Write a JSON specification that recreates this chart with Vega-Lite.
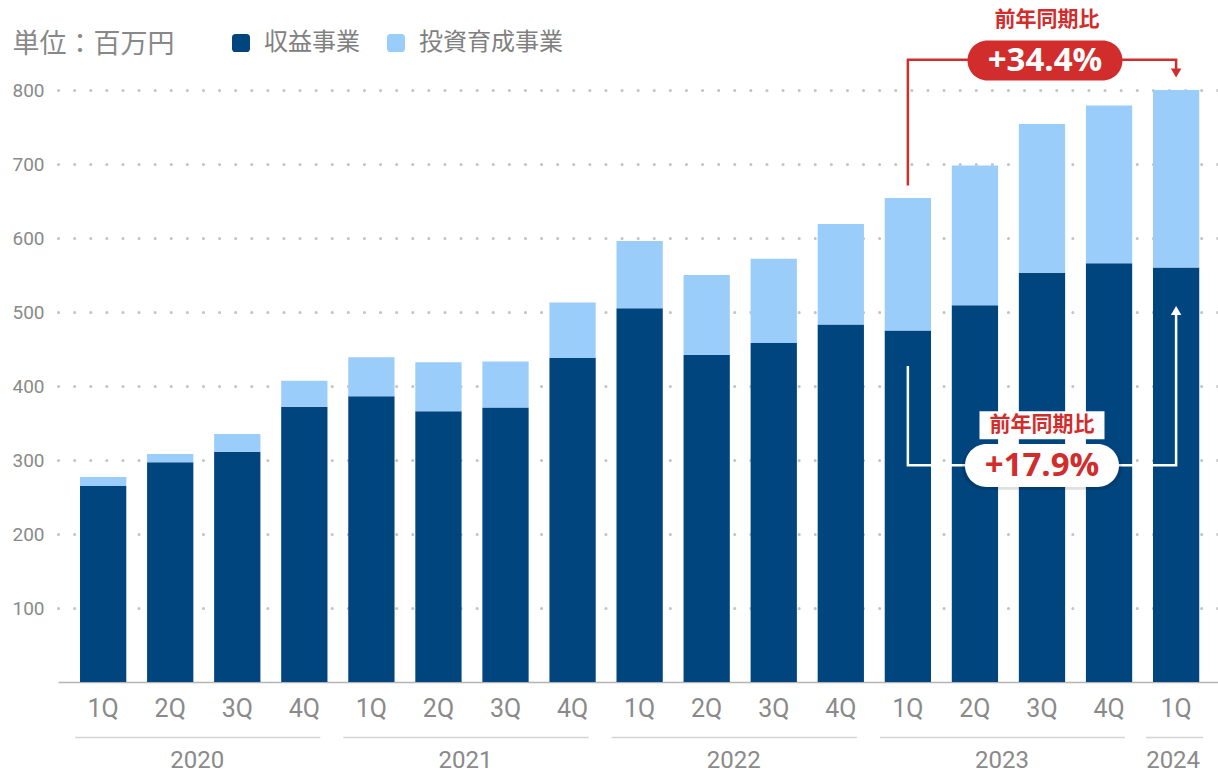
{
  "$schema": "https://vega.github.io/schema/vega-lite/v6.json",
  "width": 1160,
  "height": 592,
  "autosize": {"type": "none"},
  "padding": {"left": 58, "top": 90, "right": 0, "bottom": 92},
  "background": "white",
  "config": {"view": {"stroke": null}},
  "datasets": {
    "bars": [
      {"q": "2020 1Q", "series": "収益事業", "value": 265}, {"q": "2020 1Q", "series": "投資育成事業", "value": 12},
      {"q": "2020 2Q", "series": "収益事業", "value": 297}, {"q": "2020 2Q", "series": "投資育成事業", "value": 11},
      {"q": "2020 3Q", "series": "収益事業", "value": 311}, {"q": "2020 3Q", "series": "投資育成事業", "value": 24},
      {"q": "2020 4Q", "series": "収益事業", "value": 372}, {"q": "2020 4Q", "series": "投資育成事業", "value": 35},
      {"q": "2021 1Q", "series": "収益事業", "value": 386}, {"q": "2021 1Q", "series": "投資育成事業", "value": 53},
      {"q": "2021 2Q", "series": "収益事業", "value": 366}, {"q": "2021 2Q", "series": "投資育成事業", "value": 66},
      {"q": "2021 3Q", "series": "収益事業", "value": 371}, {"q": "2021 3Q", "series": "投資育成事業", "value": 62},
      {"q": "2021 4Q", "series": "収益事業", "value": 438}, {"q": "2021 4Q", "series": "投資育成事業", "value": 75},
      {"q": "2022 1Q", "series": "収益事業", "value": 505}, {"q": "2022 1Q", "series": "投資育成事業", "value": 91},
      {"q": "2022 2Q", "series": "収益事業", "value": 442}, {"q": "2022 2Q", "series": "投資育成事業", "value": 108},
      {"q": "2022 3Q", "series": "収益事業", "value": 458}, {"q": "2022 3Q", "series": "投資育成事業", "value": 114},
      {"q": "2022 4Q", "series": "収益事業", "value": 483}, {"q": "2022 4Q", "series": "投資育成事業", "value": 136},
      {"q": "2023 1Q", "series": "収益事業", "value": 475}, {"q": "2023 1Q", "series": "投資育成事業", "value": 179},
      {"q": "2023 2Q", "series": "収益事業", "value": 509}, {"q": "2023 2Q", "series": "投資育成事業", "value": 189},
      {"q": "2023 3Q", "series": "収益事業", "value": 553}, {"q": "2023 3Q", "series": "投資育成事業", "value": 201},
      {"q": "2023 4Q", "series": "収益事業", "value": 566}, {"q": "2023 4Q", "series": "投資育成事業", "value": 213},
      {"q": "2024 1Q", "series": "収益事業", "value": 560}, {"q": "2024 1Q", "series": "投資育成事業", "value": 240}
    ],
    "redPath": [
      {"q": "2023 1Q", "v": 671, "i": 0}, {"q": "2023 1Q", "v": 841, "i": 1},
      {"q": "2024 1Q", "v": 841, "i": 2}, {"q": "2024 1Q", "v": 826, "i": 3}
    ],
    "redArrow": [{"q": "2024 1Q", "v": 823}],
    "whitePath": [
      {"q": "2023 1Q", "v": 427, "i": 0}, {"q": "2023 1Q", "v": 293, "i": 1},
      {"q": "2024 1Q", "v": 293, "i": 2}, {"q": "2024 1Q", "v": 496, "i": 3}
    ],
    "whiteArrow": [{"q": "2024 1Q", "v": 502}],
    "topPill": [{"q": "2023 3Q", "v": 840, "text": "+34.4%"}],
    "topLabel": [{"q": "2023 3Q", "v": 895, "text": "前年同期比"}],
    "botLabel": [{"q": "2023 3Q", "v": 347, "text": "前年同期比"}],
    "botPill": [{"q": "2023 3Q", "v": 292.6, "text": "+17.9%"}],
    "years": [
      {"year": "2020", "first": "2020 1Q", "mid": "2020 2Q", "last": "2020 4Q"},
      {"year": "2021", "first": "2021 1Q", "mid": "2021 2Q", "last": "2021 4Q"},
      {"year": "2022", "first": "2022 1Q", "mid": "2022 2Q", "last": "2022 4Q"},
      {"year": "2023", "first": "2023 1Q", "mid": "2023 2Q", "last": "2023 4Q"},
      {"year": "2024", "first": "2024 1Q", "mid": "2024 1Q", "last": "2024 1Q"}
    ]
  },
  "layer": [
    {
      "data": {"name": "bars"},
      "mark": {"type": "bar"},
      "encoding": {
        "x": {
          "field": "q", "type": "nominal", "title": null,
          "scale": {
            "domain": ["2020 1Q","2020 2Q","2020 3Q","2020 4Q","2021 1Q","2021 2Q","2021 3Q","2021 4Q","2022 1Q","2022 2Q","2022 3Q","2022 4Q","2023 1Q","2023 2Q","2023 3Q","2023 4Q","2024 1Q"],
            "paddingInner": 0.31, "paddingOuter": 0.304, "align": 0.54
          },
          "axis": {
            "title": null, "ticks": false, "domain": true, "domainColor": "#b4b4b4", "domainWidth": 1.5,
            "labelExpr": "split(datum.value, ' ')[1]", "labelAngle": 0,
            "labelFont": "Roboto", "labelFontSize": 25, "labelColor": "#8a8a8a", "labelPadding": 14, "grid": false
          }
        },
        "y": {
          "field": "value", "type": "quantitative", "stack": "zero",
          "scale": {"domain": [0, 800], "nice": false, "zero": true},
          "axis": {
            "values": [100, 200, 300, 400, 500, 600, 700, 800],
            "domain": false, "ticks": false, "grid": true,
            "gridColor": "#c4c4c4", "gridWidth": 3, "gridDash": [0.1, 16], "gridCap": "round",
            "labelFont": "Roboto", "labelFontSize": 19, "labelColor": "#8a8a8a", "labelPadding": 14,
            "title": "単位：百万円", "titleAngle": 0, "titleX": -46, "titleY": -46,
            "titleAlign": "left", "titleBaseline": "middle", "titleFont": "Noto Sans CJK JP",
            "titleFontSize": 27, "titleFontWeight": "normal", "titleColor": "#888888"
          }
        },
        "color": {
          "field": "series", "type": "nominal",
          "scale": {"domain": ["収益事業", "投資育成事業"], "range": ["#00457e", "#9bcdfb"]},
          "legend": {
            "title": null, "orient": "none", "direction": "horizontal",
            "legendX": 171, "legendY": -59,
            "symbolType": "M -1 -0.6 Q -1 -1 -0.6 -1 L 0.6 -1 Q 1 -1 1 -0.6 L 1 0.6 Q 1 1 0.6 1 L -0.6 1 Q -1 1 -1 0.6 Z",
            "symbolSize": 324, "symbolStrokeWidth": 0, "symbolOpacity": 1,
            "labelFont": "Noto Sans CJK JP", "labelFontSize": 24, "labelColor": "#808080",
            "labelOffset": 11, "columnPadding": 24
          }
        },
        "order": {"field": "series", "sort": "ascending"}
      }
    },
    {
      "data": {"name": "redPath"},
      "mark": {"type": "line", "color": "#d12d2d", "strokeWidth": 2.5, "strokeJoin": "miter"},
      "encoding": {
        "x": {"field": "q", "type": "nominal"},
        "y": {"field": "v", "type": "quantitative"},
        "order": {"field": "i", "type": "quantitative"}
      }
    },
    {
      "data": {"name": "redArrow"},
      "mark": {"type": "point", "shape": "triangle-down", "size": 110, "filled": true, "color": "#d12d2d", "opacity": 1},
      "encoding": {
        "x": {"field": "q", "type": "nominal"},
        "y": {"field": "v", "type": "quantitative"}
      }
    },
    {
      "data": {"name": "topPill"},
      "mark": {"type": "point", "shape": "M -0.742 -0.258 L 0.742 -0.258 A 0.258 0.258 0 0 1 0.742 0.258 L -0.742 0.258 A 0.258 0.258 0 0 1 -0.742 -0.258 Z", "size": 24025, "filled": true, "color": "#d12d2d", "opacity": 1, "strokeWidth": 0, "xOffset": 3},
      "encoding": {
        "x": {"field": "q", "type": "nominal"},
        "y": {"field": "v", "type": "quantitative"}
      }
    },
    {
      "data": {"name": "topPill"},
      "mark": {"type": "text", "font": "Open Sans", "fontWeight": "bold", "fontSize": 33, "color": "white", "baseline": "middle", "align": "center", "xOffset": 3, "yOffset": 1},
      "encoding": {
        "x": {"field": "q", "type": "nominal"},
        "y": {"field": "v", "type": "quantitative"},
        "text": {"field": "text"}
      }
    },
    {
      "data": {"name": "topLabel"},
      "mark": {"type": "text", "font": "Noto Sans CJK JP", "fontWeight": "bold", "fontSize": 21, "color": "#d12d2d", "baseline": "middle", "align": "center", "xOffset": 5},
      "encoding": {
        "x": {"field": "q", "type": "nominal"},
        "y": {"field": "v", "type": "quantitative"},
        "text": {"field": "text"}
      }
    },
    {
      "data": {"name": "whitePath"},
      "mark": {"type": "line", "color": "white", "strokeWidth": 2.5, "strokeJoin": "miter"},
      "encoding": {
        "x": {"field": "q", "type": "nominal"},
        "y": {"field": "v", "type": "quantitative"},
        "order": {"field": "i", "type": "quantitative"}
      }
    },
    {
      "data": {"name": "whiteArrow"},
      "mark": {"type": "point", "shape": "triangle-up", "size": 110, "filled": true, "color": "white", "opacity": 1},
      "encoding": {
        "x": {"field": "q", "type": "nominal"},
        "y": {"field": "v", "type": "quantitative"}
      }
    },
    {
      "data": {"name": "botLabel"},
      "mark": {"type": "point", "shape": "M -1 -0.224 L 1 -0.224 L 1 0.224 L -1 0.224 Z", "size": 15625, "filled": true, "color": "white", "opacity": 1, "strokeWidth": 0},
      "encoding": {
        "x": {"field": "q", "type": "nominal"},
        "y": {"field": "v", "type": "quantitative"}
      }
    },
    {
      "data": {"name": "botLabel"},
      "mark": {"type": "text", "font": "Noto Sans CJK JP", "fontWeight": "bold", "fontSize": 21, "color": "#d12d2d", "baseline": "middle", "align": "center"},
      "encoding": {
        "x": {"field": "q", "type": "nominal"},
        "y": {"field": "v", "type": "quantitative"},
        "text": {"field": "text"}
      }
    },
    {
      "data": {"name": "botPill"},
      "mark": {"type": "point", "shape": "M -0.721 -0.279 L 0.721 -0.279 A 0.279 0.279 0 0 1 0.721 0.279 L -0.721 0.279 A 0.279 0.279 0 0 1 -0.721 -0.279 Z", "size": 25600, "filled": true, "color": "#000000", "opacity": 0.12, "strokeWidth": 0, "yOffset": 2},
      "encoding": {
        "x": {"field": "q", "type": "nominal"},
        "y": {"field": "v", "type": "quantitative"}
      }
    },
    {
      "data": {"name": "botPill"},
      "mark": {"type": "point", "shape": "M -0.721 -0.279 L 0.721 -0.279 A 0.279 0.279 0 0 1 0.721 0.279 L -0.721 0.279 A 0.279 0.279 0 0 1 -0.721 -0.279 Z", "size": 23716, "filled": true, "color": "white", "opacity": 1, "strokeWidth": 0},
      "encoding": {
        "x": {"field": "q", "type": "nominal"},
        "y": {"field": "v", "type": "quantitative"}
      }
    },
    {
      "data": {"name": "botPill"},
      "mark": {"type": "text", "font": "Open Sans", "fontWeight": "bold", "fontSize": 33, "color": "#d12d2d", "baseline": "middle", "align": "center", "yOffset": 1},
      "encoding": {
        "x": {"field": "q", "type": "nominal"},
        "y": {"field": "v", "type": "quantitative"},
        "text": {"field": "text"}
      }
    },
    {
      "data": {"name": "years"},
      "transform": [{"filter": "datum.year != '2024'"}],
      "mark": {"type": "rule", "color": "#d4d4d4", "strokeWidth": 1.5, "xOffset": -28, "x2Offset": 16},
      "encoding": {
        "x": {"field": "first", "type": "nominal"},
        "x2": {"field": "last"},
        "y": {"datum": -75}
      }
    },
    {
      "data": {"name": "years"},
      "transform": [{"filter": "datum.year == '2024'"}],
      "mark": {"type": "rule", "color": "#d4d4d4", "strokeWidth": 1.5, "xOffset": -30, "x2Offset": 27},
      "encoding": {
        "x": {"field": "first", "type": "nominal"},
        "x2": {"field": "last"},
        "y": {"datum": -75}
      }
    },
    {
      "data": {"name": "years"},
      "transform": [{"filter": "datum.year != '2024'"}],
      "mark": {"type": "text", "font": "Roboto", "fontSize": 24, "color": "#8a8a8a", "baseline": "middle", "align": "center", "xOffset": 27},
      "encoding": {
        "x": {"field": "mid", "type": "nominal"},
        "y": {"datum": -107},
        "text": {"field": "year"}
      }
    },
    {
      "data": {"name": "years"},
      "transform": [{"filter": "datum.year == '2024'"}],
      "mark": {"type": "text", "font": "Roboto", "fontSize": 24, "color": "#8a8a8a", "baseline": "middle", "align": "center", "xOffset": -3},
      "encoding": {
        "x": {"field": "mid", "type": "nominal"},
        "y": {"datum": -107},
        "text": {"field": "year"}
      }
    }
  ]
}
